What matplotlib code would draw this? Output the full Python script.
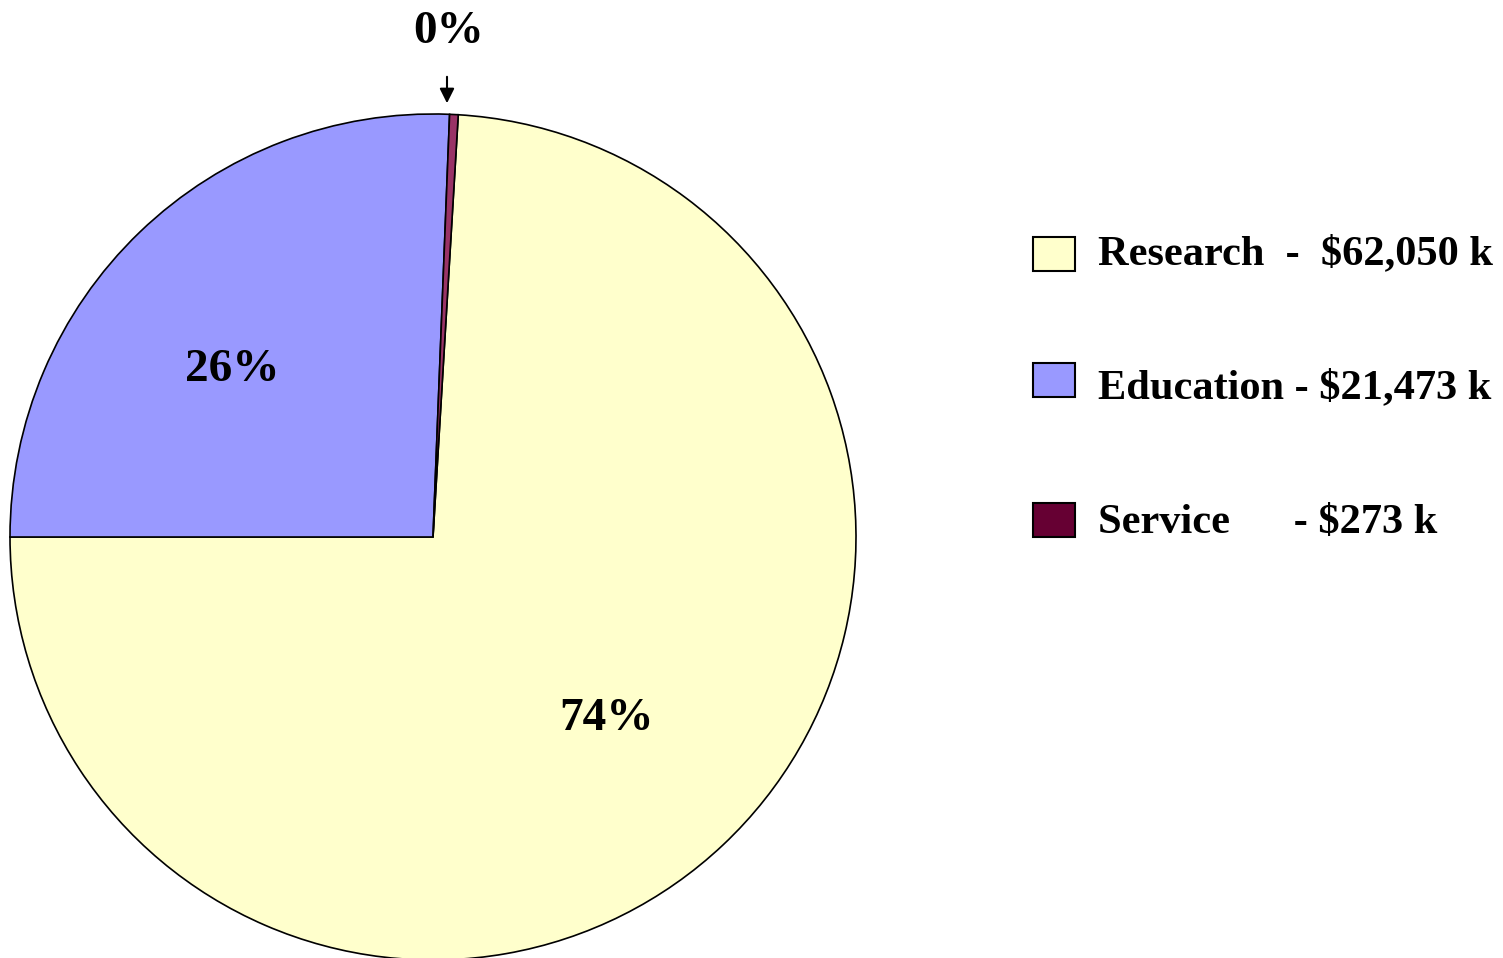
import matplotlib.pyplot as plt
from matplotlib.patches import Rectangle

# data
categories = ['Research', 'Education', 'Service']
amounts = [62050, 21473, 273]  # $ k
pie_colors = ['#FFFFCC', '#9999FF', '#993366']
legend_colors = ['#FFFFCC', '#9999FF', '#660033']
legend_labels = ['Research  -  $62,050 k',
                 'Education - $21,473 k',
                 'Service      - $273 k']

W, H = 1503, 958
plt.rcParams['font.family'] = ['Liberation Serif', 'DejaVu Serif']
plt.rcParams['font.weight'] = 'bold'

fig = plt.figure(figsize=(W / 100, H / 100), dpi=100)
ax = fig.add_axes([0, 0, 1, 1])

total = sum(amounts)
# research/education boundary sits at 9 o'clock, slices run clockwise
start = (180 + 360.0 * amounts[0] / total) % 360

cx, cy, r = 433, H - 537, 423
ax.pie(amounts, colors=pie_colors, startangle=start, counterclock=False,
       center=(cx, cy), radius=r,
       wedgeprops=dict(edgecolor='black', linewidth=1.2))

ax.set_xlim(0, W)
ax.set_ylim(0, H)
ax.set_aspect('equal')
ax.axis('off')

pcts = [round(100.0 * a / total) for a in amounts]
pct_pos = [(607, 719), (232, 370), (449, 32)]
for p, (x, y) in zip(pcts, pct_pos):
    ax.text(x, H - y, '%d%%' % p, fontsize=34, fontweight='bold',
            ha='center', va='center')

# arrow pointing at the tiny service slice
ax.annotate('', xy=(447, H - 106), xytext=(447, H - 74),
            arrowprops=dict(arrowstyle='-|>', color='black', lw=1.5,
                            mutation_scale=22))

# legend
box_tops = [237, 363, 503]
baselines = [264, 398, 533]
for col, lab, top, base in zip(legend_colors, legend_labels, box_tops, baselines):
    ax.add_patch(Rectangle((1033, H - top - 34), 42, 34, facecolor=col,
                           edgecolor='black', linewidth=1.5))
    ax.text(1098, H - base, lab, fontsize=30.5, fontweight='bold',
            ha='left', va='baseline')

fig.savefig('out.png', dpi=100)
